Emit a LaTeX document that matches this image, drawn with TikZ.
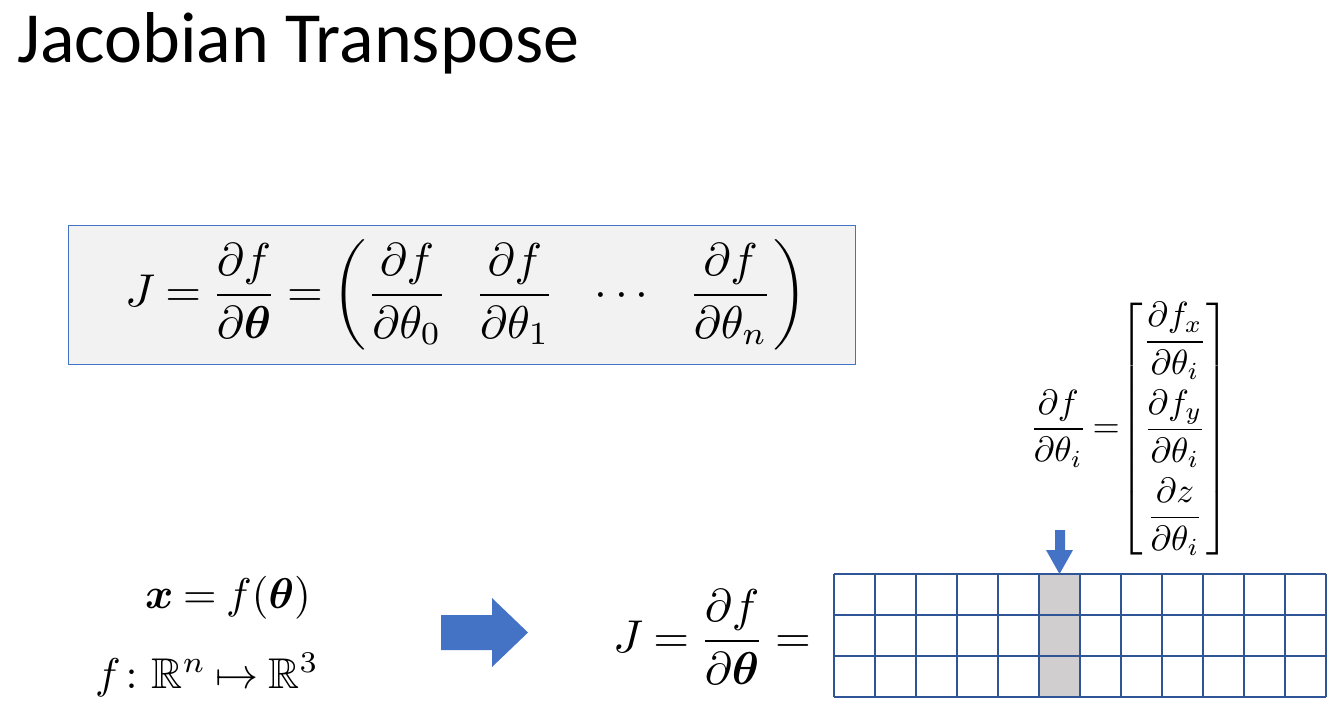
\documentclass[tikz,border=0pt]{standalone}
\usepackage{amsmath,amssymb,bm}
\usepackage[no-math]{fontspec}
\setmainfont{Carlito}
\definecolor{arrowblue}{HTML}{4472C4}
\definecolor{gridblue}{HTML}{2F5597}
\definecolor{boxfill}{HTML}{F2F2F2}
\definecolor{colgray}{HTML}{D0CECE}
\begin{document}
\begin{tikzpicture}[x=1pt,y=-1pt,
  mathbig/.style={scale=4.6,execute at begin node={\thickmuskip=4mu plus 2mu}},
  mathmid/.style={scale=4.3,execute at begin node={\thickmuskip=4mu plus 2mu}},
  mathsmall/.style={scale=3.5,execute at begin node={\thickmuskip=3mu plus 2mu\arraycolsep=0pt}},
  gridline/.style={draw=gridblue,line width=1.6pt},
  blockarrow/.style={fill=arrowblue,draw=none}]
\useasboundingbox (0,0) rectangle (1340,723);
% title
\node[anchor=base west,inner sep=0pt,font=\fontsize{72}{86}\selectfont] (title) at (17,62) {Jacobian Transpose};
% main box
\node[draw=arrowblue,fill=boxfill,line width=1pt,minimum width=787pt,minimum height=139pt,inner sep=0pt] (box) at (461.5,294.5) {};
\node[mathbig] (eq) at (466,295) {$J=\dfrac{\partial f}{\partial\boldsymbol{\theta}}=\left(\dfrac{\partial f}{\partial\theta_0}\hspace{6pt}\dfrac{\partial f}{\partial\theta_1}\hspace{7pt}\cdots\hspace{7pt}\dfrac{\partial f}{\partial\theta_n}\right)$};
% left formulas
\node[mathmid,anchor=base] (xeq) at (228,608) {$\boldsymbol{x}=f(\boldsymbol{\theta})$};
\node[mathmid,anchor=base] (fmap) at (207,688) {$f\colon\mathbb{R}^n\mapsto\mathbb{R}^3$};
% big arrow
\fill[blockarrow] (441,615) -- (492,615) -- (492,598) -- (528,632.5) -- (492,667) -- (492,650) -- (441,650) -- cycle;
% J = df/dtheta =
\node[mathbig] (jeq) at (712,637) {$J=\dfrac{\partial f}{\partial\boldsymbol{\theta}}=$};
% grid
\fill[colgray] (1039,574) rectangle (1080,697);
\foreach \i in {0,...,12} {\draw[gridline] (834+41*\i,574) -- (834+41*\i,697);}
\foreach \j in {0,...,3} {\draw[gridline] (834,574+41*\j) -- (1326,574+41*\j);}
\coordinate (gridtop) at (1059.5,574);
% small arrow
\fill[blockarrow] (1055,530) -- (1065,530) -- (1065,550) -- (1073,550) -- (1059.5,574) -- (1046,550) -- (1055,550) -- cycle;
% column vector
\node[mathsmall,anchor=west,inner sep=0pt] (colvec) at (1029,429) {$\dfrac{\partial f}{\partial\theta_i}=\!\left[\begin{array}{c}\dfrac{\partial f_x}{\partial\theta_i}\\\noalign{\vskip 3pt}\dfrac{\partial f_y}{\partial\theta_i}\\\noalign{\vskip 3pt}\dfrac{\partial z}{\partial\theta_i}\end{array}\right]$};
\end{tikzpicture}
\end{document}
